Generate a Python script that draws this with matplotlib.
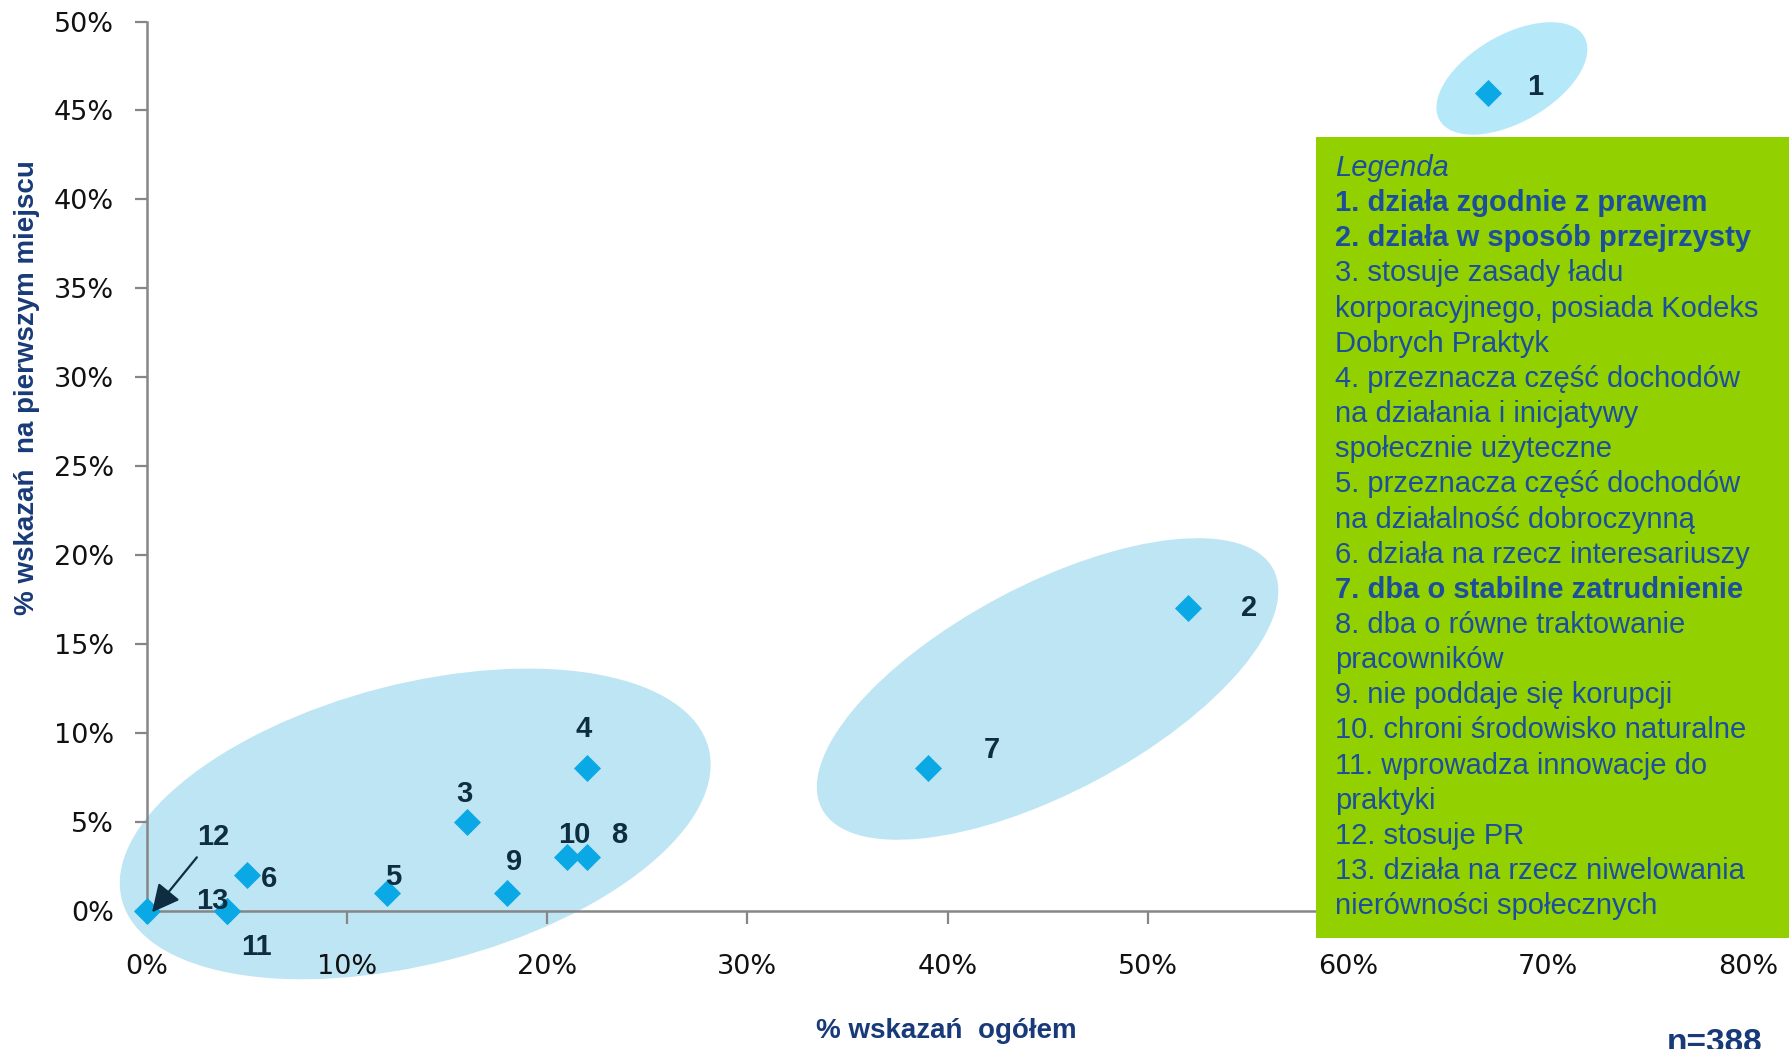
import matplotlib.pyplot as plt
import matplotlib.ticker as mticker
from matplotlib import font_manager
from matplotlib.patches import Ellipse, Rectangle
from matplotlib.transforms import ScaledTranslation

# dane z wykresu
numery = ['1', '2', '3', '4', '5', '6', '7', '8', '9', '10', '11', '12', '13']
ogolem = [67, 52, 16, 22, 12, 5, 39, 22, 18, 21, 4, 0, 4]
pierwsze = [46, 17, 5, 8, 1, 2, 8, 3, 1, 3, 0, 0, 0]

x_ticks = [0, 10, 20, 30, 40, 50, 60, 70, 80]
y_ticks = [0, 5, 10, 15, 20, 25, 30, 35, 40, 45, 50]

legenda = [
    'Legenda',
    '1. działa zgodnie z prawem',
    '2. działa w sposób przejrzysty',
    '3. stosuje zasady ładu',
    'korporacyjnego, posiada Kodeks',
    'Dobrych Praktyk',
    '4. przeznacza część dochodów',
    'na działania i inicjatywy',
    'społecznie użyteczne',
    '5. przeznacza część dochodów',
    'na działalność dobroczynną',
    '6. działa na rzecz interesariuszy',
    '7. dba o stabilne zatrudnienie',
    '8. dba o równe traktowanie',
    'pracowników',
    '9. nie poddaje się korupcji',
    '10. chroni środowisko naturalne',
    '11. wprowadza innowacje do',
    'praktyki',
    '12. stosuje PR',
    '13. działa na rzecz niwelowania',
    'nierówności społecznych',
]
pogrubione = [1, 2, 12]

# przesuniecia etykiet punktow (w punktach)
przesuniecia = {
    '1': (34, 4), '2': (44, 0), '3': (-2, 20), '4': (-3, 28), '5': (4, 11),
    '6': (16, -3), '7': (46, 13), '8': (23, 16), '9': (5, 22), '10': (5, 16),
    '11': (21, -26), '13': (-11, 7),
}

# obszary (srodek w danych, szerokosc/wysokosc w px, kat)
obszary = [
    ((13.4, 4.87), 606, 280, 14.5, '#bee5f3'),
    ((45.0, 12.46), 511, 207, 28, '#bee5f3'),
    ((68.2, 46.8), 167, 87, 30, '#b5e8f9'),
]

granat = '#183a78'
niebieski = '#1b4f9c'
ciemny = '#0e2d40'
szary = '#868686'

try:
    font_manager.findfont('Liberation Sans Narrow', fallback_to_default=False)
    waski = 'Liberation Sans Narrow'
    rozm_osi = 24
except ValueError:
    waski = 'Liberation Sans'
    rozm_osi = 20

fig = plt.figure(figsize=(17.89, 10.49), dpi=100)
ax = fig.add_axes([0.0822, 0.1320, 0.8949, 0.8475])

for (c, w, h, a, kol) in obszary:
    tr = fig.dpi_scale_trans + ScaledTranslation(c[0], c[1], ax.transData)
    ax.add_patch(Ellipse((0, 0), w / 100, h / 100, angle=a, transform=tr,
                         facecolor=kol, edgecolor='none', zorder=1, clip_on=False))

ax.scatter(ogolem, pierwsze, marker='D', s=190, color='#0aa9e6', zorder=4,
           clip_on=False, linewidths=0)

for n, x, y in zip(numery, ogolem, pierwsze):
    if n == '12':
        ax.annotate(n, xy=(x + 0.25, y - 0.1), xytext=(44, 54), textcoords='offset points',
                    ha='center', va='center', fontsize=21, fontweight='bold',
                    family='Liberation Sans', color=ciemny, zorder=5,
                    annotation_clip=False,
                    arrowprops=dict(arrowstyle='-|>,head_length=0.8,head_width=0.4',
                                    color=ciemny, lw=1.6, shrinkA=3, shrinkB=0))
    else:
        ax.annotate(n, xy=(x, y), xytext=przesuniecia[n], textcoords='offset points',
                    ha='center', va='center', fontsize=21, fontweight='bold',
                    family='Liberation Sans', color=ciemny, zorder=5,
                    annotation_clip=False)

ax.set_xlim(0, 80)
ax.set_ylim(0, 50)
ax.set_xticks(x_ticks)
ax.set_yticks(y_ticks)
ax.xaxis.set_major_formatter(mticker.PercentFormatter(decimals=0))
ax.yaxis.set_major_formatter(mticker.PercentFormatter(decimals=0))
for s in ['top', 'right']:
    ax.spines[s].set_visible(False)
for s in ['left', 'bottom']:
    ax.spines[s].set_color(szary)
    ax.spines[s].set_linewidth(1.8)
    ax.spines[s].set_zorder(3)
ax.tick_params(axis='both', direction='out', length=9, width=1.6, color=szary,
               labelsize=19.5, labelcolor='#111111')
ax.tick_params(axis='x', pad=22)
ax.tick_params(axis='y', pad=15)

ax.set_xlabel('% wskazań  ogółem', family=waski, fontweight='bold',
              fontsize=rozm_osi, color=granat, va='center')
ax.xaxis.set_label_coords(0.499, -0.1355)
ax.set_ylabel('% wskazań  na pierwszym miejscu', family=waski, fontweight='bold',
              fontsize=rozm_osi, color=granat, va='center')
ax.yaxis.set_label_coords(-0.0747, 0.588)

# ramka legendy
fig.patches.append(Rectangle((1316 / 1789, 1 - 938 / 1049), 1 - 1316 / 1789,
                             (938 - 137) / 1049, transform=fig.transFigure,
                             facecolor='#92d000', edgecolor='none', zorder=1))
for i, linia in enumerate(legenda):
    y = 1 - (176 + 35.15 * i) / 1049
    styl = 'italic' if i == 0 else 'normal'
    waga = 'bold' if i in pogrubione else 'normal'
    fig.text(1335 / 1789, y, linia, fontsize=21, family='Liberation Sans',
             style=styl, fontweight=waga, color=niebieski, va='baseline', zorder=3)

fig.text(1715 / 1789, -0.003, 'n=388', fontsize=24, fontweight='bold',
         family='Liberation Sans', color=granat, ha='center', va='baseline')

fig.savefig('out.png', dpi=100)
